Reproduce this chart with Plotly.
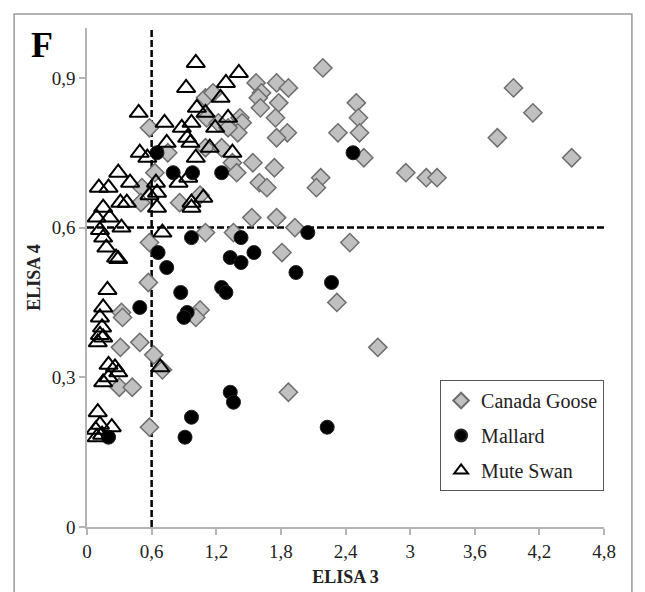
import plotly.graph_objects as go

# ---- data ----
goose_x = [2.19, 3.96, 4.14, 3.81, 4.50, 3.15, 3.25, 1.57, 1.76, 1.87, 1.62, 1.59, 1.78, 1.61, 1.75, 1.86,
           1.76, 2.50, 2.52, 2.53, 2.33, 2.57, 2.96, 1.54, 1.74, 1.60, 1.67, 2.17, 2.13, 1.53, 1.76, 1.93,
           2.44, 1.81, 2.32, 2.70, 1.87, 0.58, 0.75, 1.10, 1.17, 1.11, 1.22, 1.42, 1.44, 1.40, 1.31, 1.10,
           1.25, 1.35, 1.39, 0.63, 0.51, 0.50, 0.86, 1.05, 1.10, 1.36, 0.58, 0.57, 0.32, 0.33, 1.05, 1.01,
           0.31, 0.49, 0.62, 0.70, 0.30, 0.42, 0.58]
goose_y = [0.92, 0.88, 0.83, 0.78, 0.74, 0.70, 0.70, 0.89, 0.89, 0.88, 0.87, 0.86, 0.85, 0.84, 0.82, 0.79,
           0.78, 0.85, 0.82, 0.79, 0.79, 0.74, 0.71, 0.73, 0.72, 0.69, 0.68, 0.70, 0.68, 0.62, 0.62, 0.60,
           0.57, 0.55, 0.45, 0.36, 0.27, 0.80, 0.75, 0.86, 0.87, 0.82, 0.81, 0.82, 0.81, 0.79, 0.80, 0.76,
           0.76, 0.73, 0.71, 0.71, 0.68, 0.65, 0.65, 0.665, 0.59, 0.59, 0.57, 0.49, 0.43, 0.42, 0.435, 0.42,
           0.36, 0.37, 0.345, 0.315, 0.28, 0.28, 0.20]

mallard_x = [2.47, 2.05, 1.55, 1.94, 2.27, 2.23, 0.65, 0.80, 0.98, 1.25, 0.97, 1.43, 0.66, 1.33, 1.43,
             0.74, 0.87, 1.25, 1.29, 0.49, 0.93, 0.90, 0.20, 0.97, 0.91, 1.33, 1.36]
mallard_y = [0.75, 0.59, 0.55, 0.51, 0.49, 0.20, 0.75, 0.71, 0.71, 0.71, 0.58, 0.58, 0.55, 0.54, 0.53,
             0.52, 0.47, 0.48, 0.47, 0.44, 0.43, 0.42, 0.18, 0.22, 0.18, 0.27, 0.25]

swan_x = [1.01, 1.41, 0.92, 1.29, 1.24, 1.02, 0.48, 1.10, 1.31, 0.72, 0.88, 0.97, 1.19, 0.93, 0.96, 0.74,
          1.14, 1.01, 1.35, 0.49, 0.56, 0.29, 0.40, 0.85, 0.94, 0.11, 0.20, 0.64, 0.65, 0.58, 1.08, 0.31,
          0.37, 0.97, 0.15, 0.65, 0.97, 0.09, 0.21, 0.32, 0.12, 0.15, 0.18, 0.27, 0.29, 0.70, 0.19, 0.15,
          0.12, 0.14, 0.12, 0.15, 0.10, 0.20, 0.26, 0.68, 0.29, 0.15, 0.20, 0.10, 0.12, 0.23, 0.08, 0.09,
          0.14]
swan_y = [0.93, 0.91, 0.88, 0.89, 0.86, 0.84, 0.83, 0.83, 0.82, 0.81, 0.80, 0.81, 0.80, 0.78, 0.77, 0.77,
          0.76, 0.74, 0.75, 0.75, 0.74, 0.71, 0.69, 0.69, 0.70, 0.68, 0.68, 0.69, 0.67, 0.665, 0.66, 0.65,
          0.65, 0.65, 0.64, 0.64, 0.64, 0.62, 0.62, 0.60, 0.595, 0.58, 0.56, 0.54, 0.537, 0.59, 0.475, 0.44,
          0.42, 0.40, 0.385, 0.38, 0.37, 0.325, 0.32, 0.32, 0.31, 0.29, 0.30, 0.23, 0.205, 0.20, 0.195, 0.18,
          0.185]

x_tickvals = [0, 0.6, 1.2, 1.8, 2.4, 3.0, 3.6, 4.2, 4.8]
x_ticktext = ["0", "0,6", "1,2", "1,8", "2,4", "3", "3,6", "4,2", "4,8"]
y_tickvals = [0, 0.3, 0.6, 0.9]
y_ticktext = ["0", "0,3", "0,6", "0,9"]

x_cut = 0.6
y_cut = 0.6
x_range = [0, 4.8]
y_range = [0, 1.0]

SERIF = "Liberation Serif"
DASH = "7px,3px"

fig = go.Figure()
fig.add_trace(go.Scatter(
    x=goose_x, y=goose_y, mode="markers", name="Canada Goose", legendgroup="g1",
    marker=dict(symbol="diamond", size=14, color="#c0c0c0", line=dict(color="#6e6e6e", width=1.5))))
fig.add_trace(go.Scatter(
    x=mallard_x, y=mallard_y, mode="markers", name="Mallard", legendgroup="g2",
    marker=dict(symbol="circle", size=14, color="#000000", line=dict(color="#222222", width=1))))
fig.add_trace(go.Scatter(
    x=swan_x, y=swan_y, mode="markers", name="Mute Swan", legendgroup="g3",
    marker=dict(symbol="triangle-up-open", size=16, color="#000000", line=dict(color="#000000", width=2))))

# threshold dashed lines
fig.add_shape(type="line", x0=x_cut, x1=x_cut, y0=y_range[0], y1=y_range[1], xref="x", yref="y",
              line=dict(color="black", width=2.5, dash=DASH), layer="below")
fig.add_shape(type="line", x0=x_range[0], x1=x_range[1], y0=y_cut, y1=y_cut, xref="x", yref="y",
              line=dict(color="black", width=2.5, dash=DASH), layer="below")

# outer frame
fig.add_shape(type="rect", xref="paper", yref="paper", x0=-0.141, x1=1.054, y0=-0.25, y1=1.028,
              line=dict(color="#9a9a9a", width=1.5), fillcolor="rgba(0,0,0,0)")

fig.add_annotation(text="<b>F</b>", xref="paper", yref="paper", x=-0.087, y=0.966,
                   xanchor="center", yanchor="middle",
                   showarrow=False, font=dict(family=SERIF, size=36, color="black"))

axis_common = dict(showgrid=False, zeroline=False, showline=True, linecolor="#b4b4b4", linewidth=1.5,
                   ticks="outside", ticklen=6, tickcolor="#b4b4b4", tickwidth=1.5, automargin=False,
                   tickfont=dict(family=SERIF, size=19, color="#222222"))

fig.update_layout(
    width=645, height=592,
    margin=dict(l=87, r=41, t=28, b=65),
    paper_bgcolor="white", plot_bgcolor="white",
    font=dict(family=SERIF, color="#222222"),
    xaxis=dict(range=x_range, tickvals=x_tickvals, ticktext=x_ticktext,
               title=dict(text="<b>ELISA 3</b>", font=dict(family=SERIF, size=18, color="#222222"), standoff=10),
               **axis_common),
    yaxis=dict(range=y_range, tickvals=y_tickvals, ticktext=y_ticktext,
               title=dict(text="<b>ELISA 4</b>", font=dict(family=SERIF, size=18, color="#222222"), standoff=6),
               **axis_common),
    legend=dict(x=0.683, y=0.2946, xanchor="left", yanchor="top",
                bordercolor="#555555", borderwidth=1, bgcolor="white",
                font=dict(family=SERIF, size=20, color="#222222"),
                tracegroupgap=6, itemwidth=30, itemsizing="constant"),
    showlegend=True,
)

fig.write_html("out.html")
